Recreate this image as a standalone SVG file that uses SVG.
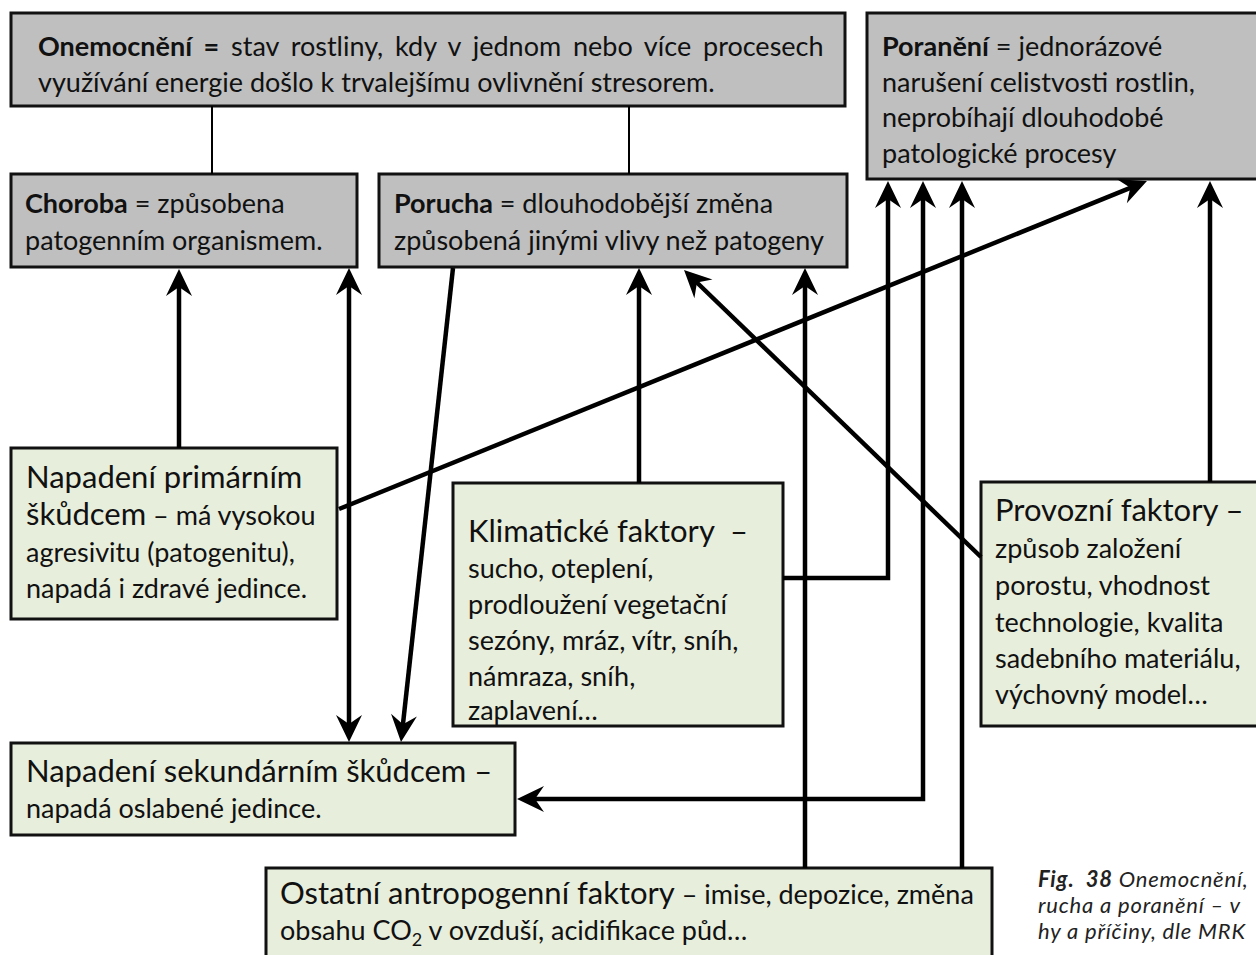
<svg xmlns="http://www.w3.org/2000/svg" width="1256" height="955" viewBox="0 0 1256 955">
  <style>
    .box-gray { fill: #bfbfbf; stroke: #111; stroke-width: 3; }
    .box-green { fill: #e8eedc; stroke: #111; stroke-width: 3; }
    text { font-family: "Lato", "Liberation Sans", sans-serif; fill: #111; white-space: pre; }
    .t { font-size: 27px; }
    .big { font-size: 31px; }
    .b { font-weight: bold; }
    .cap { font-size: 22px; font-style: italic; fill: #222; letter-spacing: 0.8px; }
    .link { fill: none; stroke: #000; stroke-width: 2; }
    .conn { fill: none; stroke: #000; stroke-width: 4.5; }
    .arr { marker-end: url(#ah); }
    .arr2 { marker-start: url(#ah); marker-end: url(#ah); }
  </style>
  <defs>
    <!-- notched arrowhead; its tip sits 10px beyond the path end -->
    <marker id="ah" markerUnits="userSpaceOnUse" viewBox="-20 -14 32 28" markerWidth="32" markerHeight="28" refX="0" refY="0" orient="auto-start-reverse">
      <path d="M10,0 L-17,-13 L-8,0 L-17,13 Z" fill="#000"/>
    </marker>
  </defs>

  <rect width="1256" height="955" fill="#fff"/>

  <!-- top row: definitions -->
  <g id="onemocneni">
    <rect class="box-gray" x="11" y="13" width="834" height="93"/>
    <text class="t" x="38" y="56" word-spacing="4.9"><tspan class="b">Onemocnění =</tspan> stav rostliny, kdy v jednom nebo více procesech</text>
    <text class="t" x="38" y="92">využívání energie došlo k trvalejšímu ovlivnění stresorem.</text>
  </g>

  <g id="poraneni">
    <rect class="box-gray" x="867" y="13" width="420" height="166"/>
    <text class="t" x="882" y="56"><tspan class="b">Poranění</tspan> = jednorázové</text>
    <text class="t" x="882" y="92">narušení celistvosti rostlin,</text>
    <text class="t" x="882" y="127">neprobíhají dlouhodobé</text>
    <text class="t" x="882" y="163">patologické procesy</text>
  </g>

  <g id="choroba">
    <rect class="box-gray" x="11" y="174" width="346" height="93"/>
    <text class="t" x="25" y="213"><tspan class="b">Choroba</tspan> = způsobena</text>
    <text class="t" x="25" y="250">patogenním organismem.</text>
  </g>

  <g id="porucha">
    <rect class="box-gray" x="379" y="174" width="468" height="93"/>
    <text class="t" x="394" y="213"><tspan class="b">Porucha</tspan> = dlouhodobější změna</text>
    <text class="t" x="394" y="250">způsobená jinými vlivy než patogeny</text>
  </g>

  <!-- causes -->
  <g id="primarni">
    <rect class="box-green" x="11" y="448" width="326" height="171"/>
    <text class="big" x="26" y="488">Napadení primárním</text>
    <text x="26" y="525"><tspan class="big">škůdcem</tspan><tspan class="t"> – má vysokou</tspan></text>
    <text class="t" x="26" y="562">agresivitu (patogenitu),</text>
    <text class="t" x="26" y="598">napadá i zdravé jedince.</text>
  </g>

  <g id="klimaticke">
    <rect class="box-green" x="453" y="483" width="330" height="243"/>
    <text class="big" x="468" y="542">Klimatické faktory  –</text>
    <text class="t" x="468" y="578">sucho, oteplení,</text>
    <text class="t" x="468" y="614">prodloužení vegetační</text>
    <text class="t" x="468" y="650">sezóny, mráz, vítr, sníh,</text>
    <text class="t" x="468" y="686">námraza, sníh,</text>
    <text class="t" x="468" y="720">zaplavení…</text>
  </g>

  <g id="provozni">
    <rect class="box-green" x="981" y="482" width="300" height="244"/>
    <text class="big" x="995" y="521">Provozní faktory –</text>
    <text class="t" x="995" y="558">způsob založení</text>
    <text class="t" x="995" y="595">porostu, vhodnost</text>
    <text class="t" x="995" y="632">technologie, kvalita</text>
    <text class="t" x="995" y="668">sadebního materiálu,</text>
    <text class="t" x="995" y="704">výchovný model…</text>
  </g>

  <g id="sekundarni">
    <rect class="box-green" x="11" y="743" width="504" height="92"/>
    <text class="big" x="26" y="782">Napadení sekundárním škůdcem –</text>
    <text class="t" x="26" y="818">napadá oslabené jedince.</text>
  </g>

  <g id="antropogenni">
    <rect class="box-green" x="266" y="868" width="726" height="100"/>
    <text x="280" y="904"><tspan class="big">Ostatní antropogenní faktory</tspan><tspan class="t"> – imise, depozice, změna</tspan></text>
    <text class="t" x="280" y="940">obsahu CO<tspan font-size="18px" dy="6">2</tspan><tspan dy="-6"> v ovzduší, acidifikace půd…</tspan></text>
  </g>

  <g id="caption">
    <text class="cap" x="1038" y="887"><tspan font-weight="bold">Fig.  38</tspan> Onemocnění,</text>
    <text class="cap" x="1038" y="913">rucha a poranění – v</text>
    <text class="cap" x="1038" y="939">hy a příčiny, dle MRK</text>
  </g>

  <g id="connectors">
    <path class="link" d="M212,106 V174"/>
    <path class="link" d="M629,106 V174"/>
    <path class="conn arr" d="M179,448 V279"/>
    <path class="conn arr2" d="M349,278 V732"/>
    <path class="conn arr" d="M453,268 L402.1,732.1"/>
    <path class="conn arr" d="M639,483 V278"/>
    <path class="conn arr" d="M783,578 H888 V191"/>
    <path class="conn arr2" d="M923,191 V799 H527"/>
    <path class="conn arr" d="M805,868 V278"/>
    <path class="conn arr" d="M962,868 V191"/>
    <path class="conn arr" d="M1210,482 V191"/>
    <path class="conn arr" d="M981,557 L691.2,277"/>
    <path class="conn arr" d="M339,509 L1137.7,184.8"/>
  </g>
</svg>
